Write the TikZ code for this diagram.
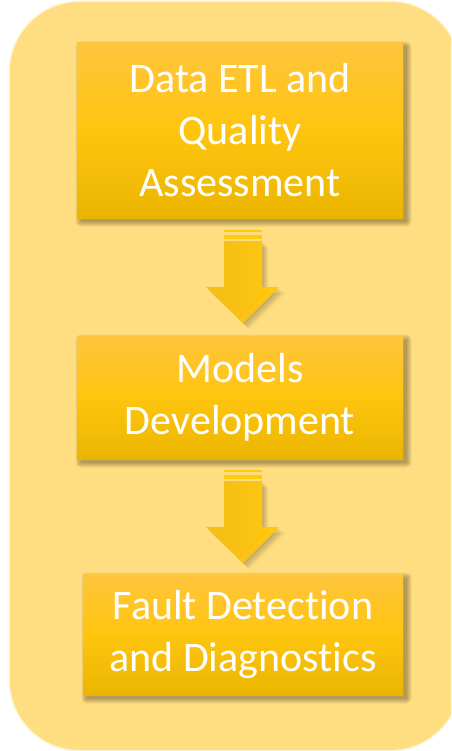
\documentclass[tikz,border=0pt]{standalone}
\usepackage{fontspec}
\setmainfont{Carlito}[Ligatures=NoCommon]
\definecolor{panel}{HTML}{FFDE82}
\definecolor{boxtop}{HTML}{FFC53D}
\definecolor{boxmid}{HTML}{FFC50E}
\definecolor{boxbot}{HTML}{EAB500}
\definecolor{arrowl}{HTML}{F3BC18}
\definecolor{arrowr}{HTML}{FFC90E}
\tikzset{
  stagebox/.style={draw=none, top color=boxtop, bottom color=boxbot, middle color=boxmid,
    text=white, align=center, inner sep=0pt,
    font=\fontsize{42}{52}\selectfont},
  flowarrow/.style={draw=none, left color=arrowl, right color=arrowr},
  stripe/.style={draw=none, fill=arrowr},
  softshade/.style={fill=black!70!brown, opacity=0.07}
}
% soft drop shadow behind a rectangle given by two corners
\newcommand\boxshade[4]{%
  \foreach \r in {0,1,...,5}{
    \fill[softshade, rounded corners=\r pt] (#1+3.5-\r,#2+3.5-\r) rectangle (#3+3.5+\r,#4+3.5+\r);
  }}
\begin{document}
\begin{tikzpicture}[x=1pt,y=-1pt]
\useasboundingbox (0,0) rectangle (451,751);
% panel behind the flow; its right side runs past the page edge
\begin{scope}
  \clip (0,0) rectangle (451,751);
  \fill[panel, rounded corners=70pt] (10,2) rectangle (460,750);
  % slightly softened rim
  \draw[panel, line width=3pt, draw opacity=0.35, rounded corners=70pt] (10,2) rectangle (460,750);
\end{scope}
% stage shadows
\boxshade{77}{43}{403}{218}
\boxshade{77}{336}{403}{459}
\boxshade{83}{574}{403}{695}
% stages
\node[stagebox, minimum width=326pt, minimum height=175pt] (etl) at (240,130.5)
  {Data ETL and\\Quality\\Assessment};
\node[stagebox, minimum width=326pt, minimum height=123pt] (models) at (240,397.5)
  {Models\\Development};
\node[stagebox, minimum width=320pt, minimum height=121pt] (fdd) at (243,634.5)
  {Fault Detection\\and Diagnostics};
% arrows between stages
\foreach \top/\name in {230/a1, 470/a2}{
  \foreach \s in {1.5,3,4.5,6}{
    \fill[softshade] (224+\s,\top+11+\s) -- (262+\s,\top+11+\s) -- (262+\s,\top+57+\s) -- (279+\s,\top+57+\s)
      -- (243+\s,\top+93+\s) -- (206+\s,\top+57+\s) -- (224+\s,\top+57+\s) -- cycle;
  }
  \fill[stripe] (224,\top) rectangle (262,\top+2.2);
  \fill[stripe] (224,\top+4.7) rectangle (262,\top+9);
  \path[flowarrow] (224,\top+11) -- (262,\top+11) -- (262,\top+57) -- (279,\top+57)
    -- (243,\top+93) -- (206,\top+57) -- (224,\top+57) -- cycle;
  \coordinate (\name) at (243,\top+93);
}
\end{tikzpicture}
\end{document}
